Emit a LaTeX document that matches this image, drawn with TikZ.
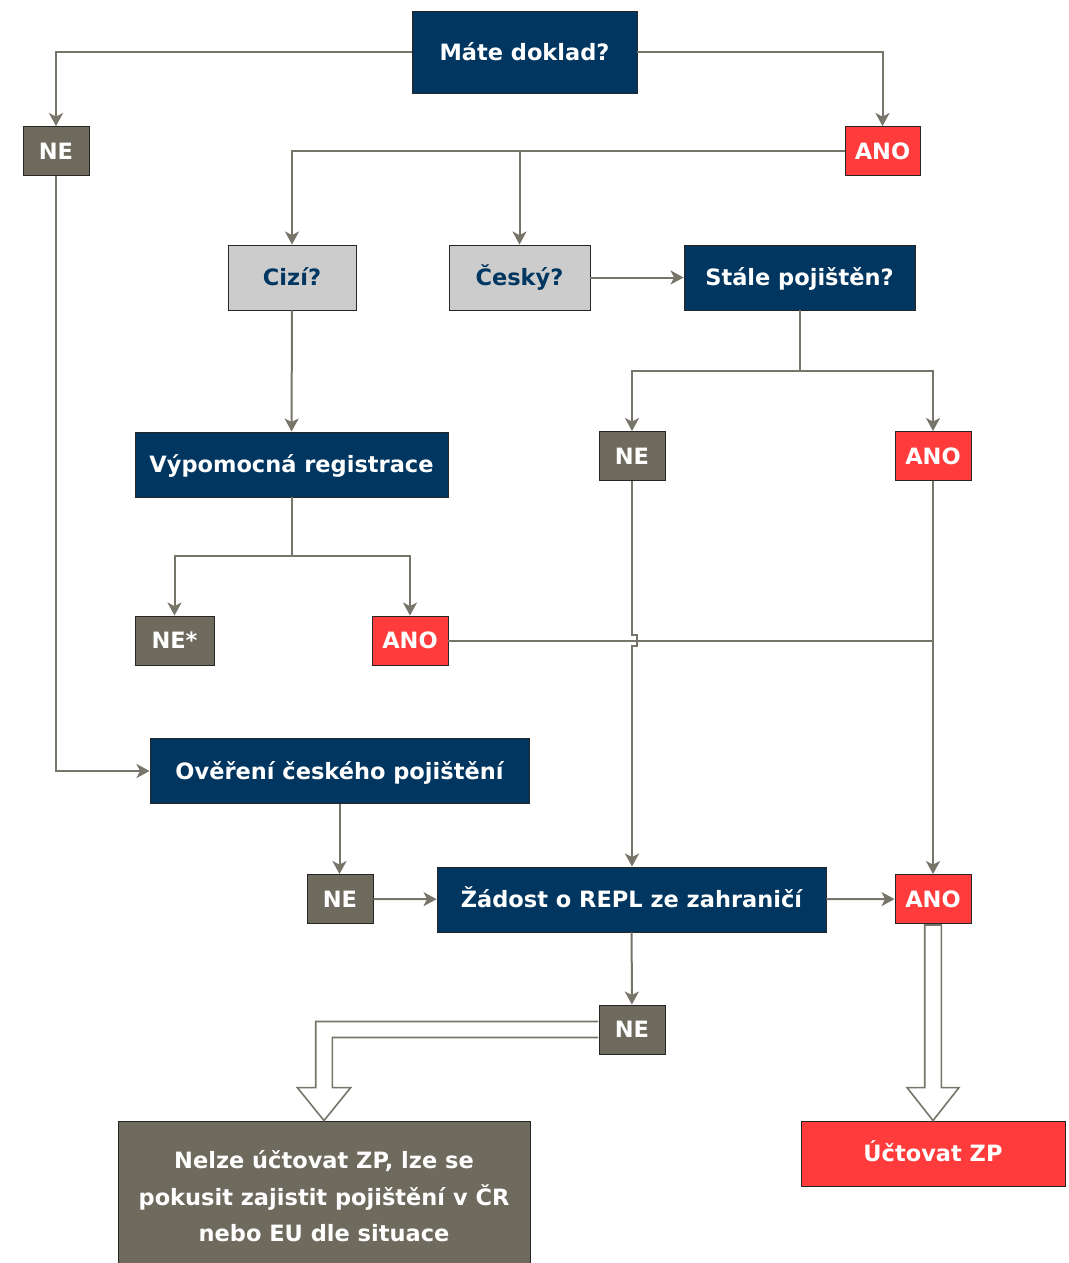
\documentclass[tikz,border=0pt]{standalone}
\usepackage{fontspec}
\setmainfont{DejaVu Sans}
\usetikzlibrary{arrows.meta,calc}
\definecolor{navy}{HTML}{003660}
\definecolor{alarmred}{HTML}{FF3B3B}
\definecolor{stone}{HTML}{6E6A5E}
\definecolor{pale}{HTML}{CCCCCC}
\definecolor{wire}{HTML}{77746A}
\tikzset{
  box/.style={draw=black!85, line width=0.9pt, inner sep=0pt, text=white,
    font=\fontsize{22.5}{27}\selectfont\bfseries},
  oneline/.style={box, text height=16.4pt, text depth=0pt},
  question/.style={oneline, fill=navy, minimum height=65pt},
  origin/.style={oneline, fill=pale, text=navy, minimum height=65pt},
  yes/.style={oneline, fill=alarmred, minimum width=76pt, minimum height=49pt},
  no/.style={oneline, fill=stone, minimum width=66pt, minimum height=49pt},
  conn/.style={draw=wire, line width=2pt, -{Stealth[length=13pt,width=14pt,inset=3.5pt]}},
  wireline/.style={draw=wire, line width=2pt},
  hollow/.style={draw=wire, line width=1.6pt, fill=white},
}

\begin{document}
\begin{tikzpicture}[x=1pt, y=-1pt]
  \useasboundingbox (0,0) rectangle (1068,1263);
  %top question and first answers
  \node[question, minimum width=225pt, minimum height=82pt] (mate) at (524.5,52) {Máte doklad?};
  \node[no] (ne1) at (56,151) {NE};
  \node[yes, minimum width=75pt] (ano1) at (882.5,151) {ANO};
  %origin of the document
  \node[origin, minimum width=128pt] (cizi) at (292,277.5) {Cizí?};
  \node[origin, minimum width=141pt] (cesky) at (519.5,277.5) {Český?};
  \node[question, minimum width=231pt] (stale) at (799.5,277.5) {Stále pojištěn?};
  \node[question, minimum width=313pt] (vyp) at (291.5,464.5) {Výpomocná registrace};
  \node[no] (ne2) at (632,456) {NE};
  \node[yes] (ano2) at (933,456) {ANO};
  \node[no, minimum width=79pt] (nestar) at (174.5,640.5) {NE*};
  \node[yes] (ano3) at (410,640.5) {ANO};
  %verification and request
  \node[question, minimum width=379pt] (overeni) at (339.5,771) {Ověření českého pojištění};
  \node[no] (ne3) at (340,899) {NE};
  \node[question, minimum width=389pt] (zadost) at (631.5,899.5) {Žádost o REPL ze zahraničí};
  \node[yes] (ano4) at (933,899) {ANO};
  \node[no] (ne4) at (632,1029.5) {NE};
  %results
  \node[box, fill=alarmred, minimum width=264pt, minimum height=65pt,
    text height=16.4pt, text depth=0pt] (uctovat) at (933,1153.5) {Účtovat ZP};
  \node[box, fill=stone, minimum width=412pt, minimum height=151pt, align=center,
    font=\fontsize{22.5}{36.5}\selectfont\bfseries] (nelze) at (324,1196.5)
    {Nelze účtovat ZP, lze se\\pokusit zajistit pojištění v ČR\\nebo EU dle situace};

  %connectors
  \draw[conn] (mate.west) -| (ne1.north);
  \draw[conn] (mate.east) -| (ano1.north);
  \draw[conn] (ano1.west) -| (cizi.north);
  \draw[conn] (ano1.west) -| (cesky.north);
  \draw[conn] (ne1.south) |- (overeni.west);
  \draw[conn] (cesky) -- (stale);
  \coordinate (staleJ) at ($(stale.south)+(0,61)$);
  \draw[conn] (stale.south) -- (staleJ) -| (ne2.north);
  \draw[conn] (staleJ) -| (ano2.north);
  \draw[conn] (cizi) -- (vyp);
  \coordinate (vypJ) at ($(vyp.south)+(0,59)$);
  \draw[conn] (vyp.south) -- (vypJ) -| (nestar.north);
  \draw[conn] (vypJ) -| (ano3.north);
  \draw[conn] (ano2) -- (ano4);
  \draw[wireline] (ano3.east) -- (ano3.east -| ano2.south);
  %line jump over the ANO line
  \draw[conn] (ne2.south) -- ($(ne2.south |- ano3.east)+(0,-6)$) -- ++(5,0) -- ++(0,11)
    -- ++(-5,0) -- (ne2.south |- zadost.north);
  \draw[conn] (overeni.south) -- (overeni.south |- ne3.north);
  \draw[conn] (ne3) -- (zadost);
  \draw[conn] (zadost) -- (ano4);
  \draw[conn] (zadost) -- (ne4);
  %hollow arrows to the results
  \draw[hollow] ($(ne4.west)+(-0.5,-8)$) -| ($(nelze.north)+(-8.3,-33)$) -- ++(-18.4,0)
    -- (nelze.north) -- ++(26.7,-33) -- ++(-18.4,0) |- ($(ne4.west)+(-0.5,8)$);
  \draw[hollow] ($(ano4.south)+(-8.3,1)$) -- ($(uctovat.north)+(-8.3,-33)$) -- ++(-17.7,0)
    -- (uctovat.north) -- ++(26,-33) -- ++(-17.7,0) -- ($(ano4.south)+(8.3,1)$) -- cycle;
\end{tikzpicture}
\end{document}
